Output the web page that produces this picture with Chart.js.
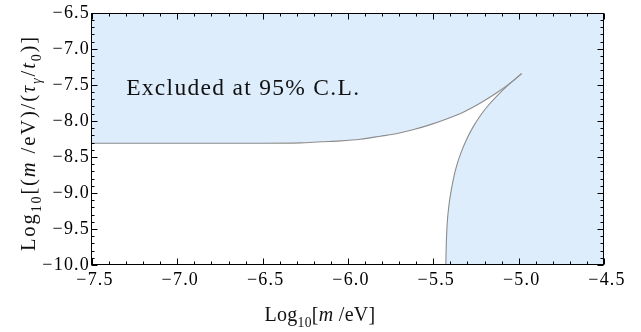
<!DOCTYPE html>
<html>
<head>
<meta charset="utf-8">
<script src="https://cdn.jsdelivr.net/npm/chart.js@4.4.0/dist/chart.umd.min.js"></script>
<style>
  html, body { margin: 0; padding: 0; background: #fff; }
  #wrap { width: 641px; height: 332px; }
</style>
</head>
<body>
<div id="wrap"><canvas id="chart"></canvas></div>
<script>
// axis ranges and tick marks
const xRange = [-7.5, -4.5];
const yRange = [-10, -6.5];
const xTicks = [-7.5, -7.0, -6.5, -6.0, -5.5, -5.0, -4.5];
const yTicks = [-10.0, -9.5, -9.0, -8.5, -8.0, -7.5, -7.0, -6.5];

// upper edge of the allowed (white) region
const upperX = [-7.5, -7.0, -6.5, -6.28, -6.16, -6.045, -5.928, -5.81, -5.712, -5.615, -5.517, -5.419, -5.322, -5.224, -5.126, -5.029, -4.983];
const upperY = [-8.31, -8.31, -8.31, -8.305, -8.29, -8.277, -8.254, -8.213, -8.175, -8.12, -8.052, -7.97, -7.875, -7.751, -7.607, -7.437, -7.344];

// lower / right edge of the allowed region
const lowerX = [-5.427, -5.424, -5.419, -5.409, -5.396, -5.381, -5.362, -5.336, -5.304, -5.266, -5.224, -5.180, -5.128, -5.060, -4.983];
const lowerY = [-10.0, -9.70, -9.43, -9.18, -8.975, -8.79, -8.61, -8.43, -8.25, -8.08, -7.925, -7.79, -7.655, -7.50, -7.344];

// annotation
const labelText = 'Excluded at 95% C.L.';
const labelPos = [-7.3, -7.64];

const fillColor = 'rgb(222,237,252)';
const edgeColor = 'rgb(140,140,140)';
const serif = '"Liberation Serif", "DejaVu Serif", serif';

const pts = (xs, ys) => xs.map((x, i) => ({x: x, y: ys[i]}));
const upperPts = pts(upperX, upperY);
const lowerPts = pts(lowerX, lowerY);
const tip = upperPts[upperPts.length - 1];

function fmt(v) {
    return (v < 0 ? '\u2212' : '') + Math.abs(v).toFixed(1);
}

// draw a run of text pieces: style n = normal, i = italic, s = subscript
function richWidth(ctx, parts, size) {
    let w = 0;
    for (const [t, st] of parts) {
        const fs = st.includes('s') ? size * 0.68 : size;
        ctx.font = (st.includes('i') ? 'italic ' : '') + fs + 'px ' + serif;
        w += ctx.measureText(t).width;
    }
    return w;
}
function drawRich(ctx, parts, cx, cy, size) {
    let x = cx - richWidth(ctx, parts, size) / 2;
    ctx.textAlign = 'left';
    ctx.textBaseline = 'alphabetic';
    for (const [t, st] of parts) {
        const sub = st.includes('s');
        const fs = sub ? size * 0.68 : size;
        ctx.font = (st.includes('i') ? 'italic ' : '') + fs + 'px ' + serif;
        ctx.fillText(t, x, cy + (sub ? size * 0.28 : 0));
        x += ctx.measureText(t).width;
    }
}

const xTitle = [['Log', 'n'], ['10', 's'], ['[', 'n'], ['m', 'i'], [' /eV]', 'n']];
const yTitle = [['Log', 'n'], ['10', 's'], ['[(', 'n'], ['m', 'i'], [' /eV)/(', 'n'], ['\u03C4', 'i'], ['\u03B3', 'si'], ['/', 'n'], ['t', 'i'], ['0', 's'], [')]', 'n']];

const decorations = {
    id: 'decorations',
    beforeLayout(chart) {
        // a little extra spacing, like the original tick labels
        chart.ctx.letterSpacing = '1.2px';
    },
    afterDraw(chart) {
        const {ctx, chartArea: a, scales: {x, y}} = chart;
        ctx.save();
        ctx.strokeStyle = '#000';
        ctx.lineWidth = 1;
        const L = Math.round(a.left) - 0.5, R = Math.round(a.right) - 0.5;
        const T = Math.round(a.top) + 0.5, B = Math.round(a.bottom) - 0.5;

        ctx.beginPath();
        // inward ticks, major every 0.5, minor every 0.1
        for (let i = 0; i <= 30; i++) {
            const v = xRange[0] + i * 0.1;
            const px = Math.round(x.getPixelForValue(v)) + 0.5;
            const len = i % 5 === 0 ? 6 : 3;
            ctx.moveTo(px, B); ctx.lineTo(px, B - len);
            ctx.moveTo(px, T); ctx.lineTo(px, T + len);
        }
        for (let i = 0; i <= 35; i++) {
            const v = yRange[0] + i * 0.1;
            const py = Math.round(y.getPixelForValue(v)) + 0.5;
            const len = i % 5 === 0 ? 6 : 3;
            ctx.moveTo(L, py); ctx.lineTo(L + len, py);
            ctx.moveTo(R, py); ctx.lineTo(R - len, py);
        }
        ctx.stroke();
        ctx.strokeRect(L, T, R - L, B - T);

        // annotation inside the excluded region
        ctx.fillStyle = '#111';
        ctx.font = '23.5px ' + serif;
        ctx.letterSpacing = '1.3px';
        ctx.textAlign = 'left';
        ctx.textBaseline = 'alphabetic';
        ctx.fillText(labelText, x.getPixelForValue(labelPos[0]), y.getPixelForValue(labelPos[1]));

        // axis titles
        ctx.letterSpacing = '0.3px';
        drawRich(ctx, xTitle, 320, 321, 20);
        ctx.translate(35, 143);
        ctx.rotate(-Math.PI / 2);
        ctx.letterSpacing = '1.9px';
        drawRich(ctx, yTitle, 0, 0, 20.5);
        ctx.restore();
    }
};

const ctx = document.getElementById('chart').getContext('2d');
new Chart(ctx, {
    type: 'scatter',
    data: {
        datasets: [
            {
                data: [...upperPts, {x: xRange[1], y: yRange[0]}],
                showLine: true, fill: 'end', backgroundColor: fillColor,
                borderColor: 'rgba(0,0,0,0)', borderWidth: 0, pointRadius: 0, order: 2
            },
            {
                data: [...lowerPts, {x: xRange[1], y: tip.y}],
                showLine: true, fill: 'start', backgroundColor: fillColor,
                borderColor: 'rgba(0,0,0,0)', borderWidth: 0, pointRadius: 0, order: 2
            },
            {
                data: upperPts,
                showLine: true, fill: false, borderColor: edgeColor, borderWidth: 1.1, pointRadius: 0, order: 1,
                cubicInterpolationMode: 'monotone'
            },
            {
                data: lowerPts,
                showLine: true, fill: false, borderColor: edgeColor, borderWidth: 1.1, pointRadius: 0, order: 1,
                cubicInterpolationMode: 'monotone'
            }
        ]
    },
    options: {
        responsive: true,
        maintainAspectRatio: false,
        animation: false,
        events: [],
        layout: { padding: { top: 9, right: 37, left: 0, bottom: 0 } },
        plugins: {
            legend: { display: false },
            tooltip: { enabled: false }
        },
        scales: {
            x: {
                type: 'linear',
                min: xRange[0], max: xRange[1],
                afterBuildTicks: s => { s.ticks = xTicks.map(v => ({value: v})); },
                afterFit: s => { s.height = 67; },
                grid: { display: false, drawTicks: false },
                border: { display: false },
                ticks: {
                    callback: v => fmt(v),
                    color: '#000',
                    padding: 4,
                    labelOffset: 3,
                    maxRotation: 0,
                    autoSkip: false,
                    font: { family: serif, size: 18 }
                }
            },
            y: {
                type: 'linear',
                min: yRange[0], max: yRange[1],
                afterBuildTicks: s => { s.ticks = yTicks.map(v => ({value: v})); },
                afterFit: s => { s.width = 92; },
                grid: { display: false, drawTicks: false },
                border: { display: false },
                ticks: {
                    callback: v => fmt(v),
                    color: '#000',
                    padding: 2,
                    autoSkip: false,
                    font: { family: serif, size: 18 }
                }
            }
        }
    },
    plugins: [decorations]
});
</script>
</body>
</html>
